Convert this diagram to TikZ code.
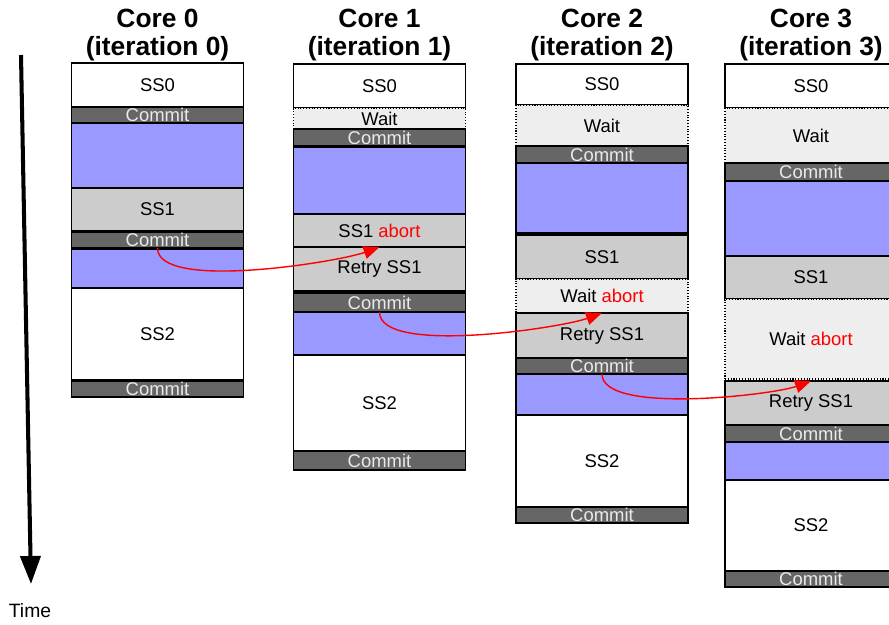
\documentclass[tikz,border=0pt]{standalone}
\usepackage{fontspec}
\setmainfont{Liberation Sans}
\usetikzlibrary{arrows.meta}
\definecolor{workblue}{HTML}{9999FF}
\definecolor{ssgray}{HTML}{CCCCCC}
\definecolor{waitgray}{HTML}{EEEEEE}
\definecolor{commitgray}{HTML}{666666}
\definecolor{commitfont}{HTML}{EAEAEA}
\tikzset{
  blk/.style={draw=black,line width=0.6pt,minimum width=3.44cm,inner sep=0pt,outer sep=0pt,font=\fontsize{10.5}{12}\selectfont},
  ssw/.style={blk,fill=white},
  ssg/.style={blk,fill=ssgray},
  waitbox/.style={blk,fill=waitgray,densely dotted},
  commitbox/.style={blk,fill=commitgray,text=commitfont},
  workbox/.style={blk,fill=workblue},
  title/.style={font=\fontsize{15}{16}\selectfont\bfseries,anchor=base,inner sep=0pt},
  abortarrow/.style={red,line width=0.8pt,-{Triangle[length=3.2mm,width=2.6mm]}},
}
\newcommand{\blk}[6]{\node[#2,minimum height={(#5-#4)*0.02cm}](#1)at({#3},{(#4+#5)/2}){#6};}
\begin{document}
\begin{tikzpicture}[x=0.02cm,y=-0.02cm]
\useasboundingbox(0,0)rectangle(889,625);
\clip(0,0)rectangle(889,625);
%
\node[title](t0a)at(157.5,28){Core 0};
\node[title](t0b)at(157.5,56){(iteration 0)};
\node[title](t1a)at(379.5,28){Core 1};
\node[title](t1b)at(379.5,56){(iteration 1)};
\node[title](t2a)at(602,28){Core 2};
\node[title](t2b)at(602,56){(iteration 2)};
\node[title](t3a)at(811,28){Core 3};
\node[title](t3b)at(811,56){(iteration 3)};
%
\blk{c0s0}{ssw}{157.5}{63}{107}{SS0}
\blk{c0k0}{commitbox}{157.5}{107}{123}{Commit}
\blk{c0w0}{workbox}{157.5}{123}{188}{}
\blk{c0s1}{ssg}{157.5}{188}{231}{SS1}
\blk{c0k1}{commitbox}{157.5}{232}{248}{Commit}
\blk{c0w1}{workbox}{157.5}{249}{288}{}
\blk{c0s2}{ssw}{157.5}{288}{380}{SS2}
\blk{c0k2}{commitbox}{157.5}{381}{397}{Commit}
%
\blk{c1s0}{ssw}{379.5}{64}{108}{SS0}
\blk{c1wt}{waitbox}{379.5}{108}{129}{Wait}
\blk{c1k0}{commitbox}{379.5}{129}{146}{Commit}
\blk{c1w0}{workbox}{379.5}{147}{214}{}
\blk{c1s1}{ssg}{379.5}{214}{247}{SS1 \textcolor{red}{abort}}
\blk{c1rt}{ssg}{379.5}{247}{291}{Retry SS1}
\blk{c1k1}{commitbox}{379.5}{293}{312}{Commit}
\blk{c1w1}{workbox}{379.5}{312}{355}{}
\blk{c1s2}{ssw}{379.5}{355}{451}{SS2}
\blk{c1k2}{commitbox}{379.5}{451}{470}{Commit}
%
\blk{c2s0}{ssw}{602}{64}{105}{SS0}
\blk{c2wt}{waitbox}{602}{105}{146}{Wait}
\blk{c2k0}{commitbox}{602}{146}{163}{Commit}
\blk{c2w0}{workbox}{602}{163}{233}{}
\blk{c2s1}{ssg}{602}{235}{279}{SS1}
\blk{c2wa}{waitbox}{602}{279}{313}{Wait \textcolor{red}{abort}}
\blk{c2rt}{ssg}{602}{313}{358}{Retry SS1}
\blk{c2k1}{commitbox}{602}{358}{374}{Commit}
\blk{c2w1}{workbox}{602}{374}{415}{}
\blk{c2s2}{ssw}{602}{415}{507}{SS2}
\blk{c2k2}{commitbox}{602}{507}{523}{Commit}
%
\blk{c3s0}{ssw}{811}{64}{108}{SS0}
\blk{c3wt}{waitbox}{811}{108}{163}{Wait}
\blk{c3k0}{commitbox}{811}{163}{181}{Commit}
\blk{c3w0}{workbox}{811}{181}{256}{}
\blk{c3s1}{ssg}{811}{256}{299}{SS1}
\blk{c3wa}{waitbox}{811}{299}{379}{Wait \textcolor{red}{abort}}
\blk{c3rt}{ssg}{811}{381}{425}{Retry SS1}
\blk{c3k1}{commitbox}{811}{425}{442}{Commit}
\blk{c3w1}{workbox}{811}{442}{480}{}
\blk{c3s2}{ssw}{811}{480}{571}{SS2}
\blk{c3k2}{commitbox}{811}{571}{587}{Commit}
%
\draw[abortarrow](c0k1.south)to[out=-90,in=200,looseness=0.5](c1rt.north);
\draw[abortarrow](c1k1.south)to[out=-90,in=200,looseness=0.5](c2rt.north);
\draw[abortarrow](c2k1.south)to[out=-90,in=200,looseness=0.5](c3rt.north);
%
\coordinate(tstart)at(21,55);
\coordinate(tend)at(31,584);
\draw[line width=2.3pt,-{Triangle[length=5.6mm,width=4mm]}](tstart)--(tend);
\node[font=\fontsize{11}{12}\selectfont](time)at(30,611){Time};
\end{tikzpicture}
\end{document}
